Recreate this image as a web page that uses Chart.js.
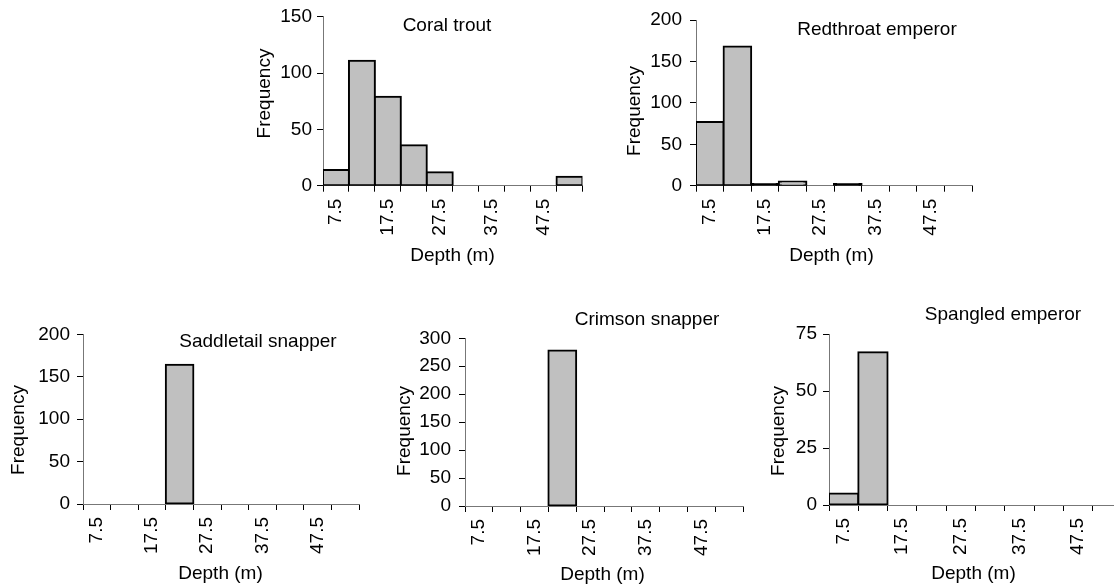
<!DOCTYPE html>
<html>
<head>
<meta charset="utf-8">
<script src="https://cdn.jsdelivr.net/npm/chart.js@4.4.1/dist/chart.umd.min.js"></script>
<style>
  html, body { margin: 0; padding: 0; background: #fff; width: 1114px; height: 588px; overflow: hidden; position: relative; }
  canvas.panel { position: absolute; }
</style>
</head>
<body>
<canvas id="coralTrout" class="panel"></canvas>
<canvas id="redthroatEmperor" class="panel"></canvas>
<canvas id="saddletailSnapper" class="panel"></canvas>
<canvas id="crimsonSnapper" class="panel"></canvas>
<canvas id="spangledEmperor" class="panel"></canvas>
<script>
// depth bin midpoints (m), every other one is labelled
const depthBins = ['7.5', '12.5', '17.5', '22.5', '27.5', '32.5', '37.5', '42.5', '47.5', '52.5'];

// catch frequency per depth bin
const coralTrout        = [14, 111, 79, 36, 12, 0, 0, 0, 0, 8];
const redthroatEmperor  = [77, 168, 2, 5, 0, 2, 0, 0, 0, 0];
const saddletailSnapper = [0, 0, 0, 164, 0, 0, 0, 0, 0, 0];
const crimsonSnapper    = [0, 0, 0, 278, 0, 0, 0, 0, 0, 0];
const spangledEmperor   = [5, 67, 0, 0, 0, 0, 0, 0, 0, 0];

const speciesNames = ['Coral trout', 'Redthroat emperor', 'Saddletail snapper', 'Crimson snapper', 'Spangled emperor'];
const speciesData  = [coralTrout, redthroatEmperor, saddletailSnapper, crimsonSnapper, spangledEmperor];
const yAxisMax  = [150, 200, 200, 300, 75];
const yAxisStep = [50, 50, 50, 50, 25];

// page placement of each small histogram (page pixels)
const panels = [
  { id: 'coralTrout',        box: [240, 0, 360, 267],   area: { l: 323, t: 16.7,  r: 586,  b: 185.7 },
    name: [447, 25.5],  yTitle: [265, 93.5], xTitle: [452.5, 256], yGap: 5 },
  { id: 'redthroatEmperor',  box: [610, 0, 380, 267],   area: { l: 696, t: 20,    r: 972,  b: 185.7 },
    name: [877, 30],    yTitle: [635, 111],  xTitle: [831.5, 256], yGap: 8 },
  { id: 'saddletailSnapper', box: [0, 290, 380, 295],   area: { l: 83,  t: 334.3, r: 359,  b: 504 },
    name: [258, 342],   yTitle: [19, 430],   xTitle: [220.5, 574], yGap: 7 },
  { id: 'crimsonSnapper',    box: [385, 290, 375, 295], area: { l: 465, t: 338.3, r: 743,  b: 506 },
    name: [647, 319.4], yTitle: [405, 431],  xTitle: [602.5, 575], yGap: 8 },
  { id: 'spangledEmperor',   box: [765, 290, 375, 295], area: { l: 829, t: 334,   r: 1122, b: 505 },
    name: [1003, 315],  yTitle: [779, 431],  xTitle: [973.5, 574], yGap: 6 }
];

const FONT = '"Liberation Sans", Arial, sans-serif';
const TITLE_SIZE = 19;
const TICK_SIZE = 19;
const Y_AXIS_WIDTH = 50;

Chart.defaults.font.family = FONT;
Chart.defaults.color = '#000';

// species name plus the two axis captions
const panelText = {
  id: 'panelText',
  afterDraw(chart, args, opts) {
    const ctx = chart.ctx;
    ctx.save();
    ctx.font = TITLE_SIZE + 'px ' + FONT;
    ctx.fillStyle = '#000';
    ctx.textAlign = 'center';
    ctx.textBaseline = 'middle';
    ctx.fillText(opts.name, opts.nameAt[0], opts.nameAt[1]);
    ctx.fillText('Depth (m)', opts.xTitleAt[0], opts.xTitleAt[1]);
    ctx.translate(opts.yTitleAt[0], opts.yTitleAt[1]);
    ctx.rotate(-Math.PI / 2);
    ctx.fillText('Frequency', 0, 0);
    ctx.restore();
  }
};

panels.forEach(function(p, i) {
  const [bx, by, bw, bh] = p.box;
  const canvas = document.getElementById(p.id);
  canvas.width = bw;
  canvas.height = bh;
  canvas.style.left = bx + 'px';
  canvas.style.top = by + 'px';
  canvas.style.width = bw + 'px';
  canvas.style.height = bh + 'px';

  const xHeight = by + bh - p.area.b;
  const local = function(pt) { return [pt[0] - bx, pt[1] - by]; };

  new Chart(canvas.getContext('2d'), {
    type: 'bar',
    data: {
      labels: depthBins,
      datasets: [{
        data: speciesData[i],
        // very short bars are swallowed by their outline
        backgroundColor: function(ctx) { return ctx.raw > 0 && ctx.raw < 3 ? '#000' : '#c0c0c0'; },
        borderColor: '#000',
        borderWidth: 2,
        borderSkipped: false,
        // centre the outline on the bin edges so neighbours share one line
        inflateAmount: function(ctx) { return ctx.raw ? 1 : 0; },
        barPercentage: 1,
        categoryPercentage: 1
      }]
    },
    options: {
      responsive: false,
      animation: false,
      layout: {
        padding: { left: p.area.l - Y_AXIS_WIDTH - bx, top: p.area.t - by, right: bx + bw - p.area.r, bottom: 0 }
      },
      plugins: {
        legend: { display: false },
        tooltip: { enabled: false },
        panelText: {
          name: speciesNames[i],
          nameAt: local(p.name),
          xTitleAt: local(p.xTitle),
          yTitleAt: local(p.yTitle)
        }
      },
      scales: {
        x: {
          offset: true,
          ticks: {
            autoSkip: false,
            minRotation: 90,
            maxRotation: 90,
            padding: 7,
            font: { size: TICK_SIZE },
            callback: function(value, index) {
              return index % 2 === 0 ? this.getLabelForValue(value) : '';
            }
          },
          grid: { offset: true, drawOnChartArea: false, tickLength: 6, color: '#000' },
          border: { color: '#777', width: 1 },
          afterFit: function(scale) { scale.height = xHeight; }
        },
        y: {
          min: 0,
          max: yAxisMax[i],
          ticks: { stepSize: yAxisStep[i], padding: p.yGap, font: { size: TICK_SIZE } },
          grid: { drawOnChartArea: false, tickLength: 6, color: '#000' },
          border: { color: '#777', width: 1 },
          afterFit: function(scale) { scale.width = Y_AXIS_WIDTH; }
        }
      }
    },
    plugins: [panelText]
  });
});
</script>
</body>
</html>
